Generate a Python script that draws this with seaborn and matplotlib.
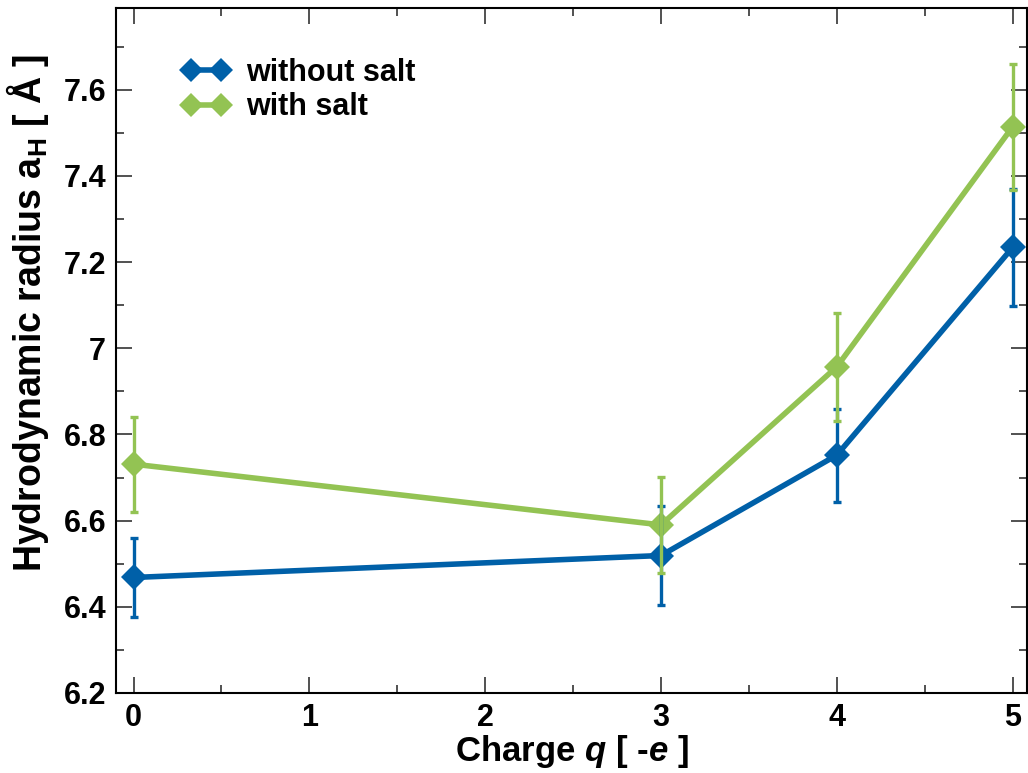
import numpy as np
import pandas as pd
import matplotlib
matplotlib.use("Agg")
import matplotlib.pyplot as plt
import seaborn as sns
from matplotlib.ticker import MultipleLocator

# data
charge = [0, 3, 4, 5]
a_without = [6.468, 6.519, 6.752, 7.234]
err_without = [0.091, 0.114, 0.108, 0.136]
a_with = [6.731, 6.590, 6.957, 7.514]
err_with = [0.110, 0.112, 0.125, 0.146]
series = ["without salt", "with salt"]
colors = ["#0060a8", "#93c353"]
yticks = [6.2, 6.4, 6.6, 6.8, 7.0, 7.2, 7.4, 7.6]
ytick_labels = ["6.2", "6.4", "6.6", "6.8", "7", "7.2", "7.4", "7.6"]

df = pd.DataFrame({
    "q": charge * 2,
    "a": a_without + a_with,
    "err": err_without + err_with,
    "salt": [series[0]] * 4 + [series[1]] * 4,
})

sns.set_theme(style="ticks")
plt.rcParams["font.family"] = ["Liberation Sans", "DejaVu Sans"]
plt.rcParams["font.weight"] = "bold"
plt.rcParams["text.color"] = "black"
plt.rcParams["axes.labelcolor"] = "black"
plt.rcParams["xtick.color"] = "black"
plt.rcParams["ytick.color"] = "black"
plt.rcParams["mathtext.fontset"] = "custom"
plt.rcParams["mathtext.it"] = "Liberation Sans:italic:bold"
plt.rcParams["mathtext.rm"] = "Liberation Sans:bold"

fig = plt.figure(figsize=(10.28, 7.73), dpi=100)
ax = fig.add_axes([0.1128, 0.1035, 0.886, 0.8865])

pal = dict(zip(series, colors))

sns.lineplot(data=df, x="q", y="a", hue="salt", palette=pal, marker="D",
             markersize=13, markeredgewidth=0, linewidth=4, ax=ax,
             legend=True, zorder=3)

for s in series:
    sub = df[df["salt"] == s]
    ax.errorbar(sub["q"], sub["a"], yerr=sub["err"], fmt="none",
                ecolor=pal[s], elinewidth=2.4, capsize=2.6, capthick=2.4, zorder=4)

ax.set_xlim(-0.1, 5.08)
ax.set_ylim(6.2, 7.79)
ax.xaxis.set_major_locator(MultipleLocator(1))
ax.xaxis.set_minor_locator(MultipleLocator(0.5))
ax.yaxis.set_minor_locator(MultipleLocator(0.1))
ax.set_yticks(yticks)
ax.set_yticklabels(ytick_labels)
ax.tick_params(which="both", direction="in", top=True, right=True, width=1.2,
               labelsize=22, color="#333333")
ax.tick_params(which="major", length=11.5, pad=7)
ax.tick_params(which="minor", length=6)
for lab in ax.get_xticklabels() + ax.get_yticklabels():
    lab.set_fontweight("bold")
for sp in ax.spines.values():
    sp.set_linewidth(1.5)
    sp.set_color("black")

ax.set_xlabel(r"Charge $q$ [ -$e$ ]", fontsize=25, fontweight="bold", labelpad=0)
ax.set_ylabel(r"Hydrodynamic radius a$_\mathregular{H}$ [ Å ]", fontsize=27,
              fontweight="bold")
ax.yaxis.set_label_coords(-0.071, 0.555)

handles, labels = ax.get_legend_handles_labels()
for h in handles:
    h.set_markersize(12.5)
ax.legend(handles, labels, loc="upper left", bbox_to_anchor=(0.072, 0.927),
          frameon=False, numpoints=2, handlelength=1.6, borderpad=0,
          borderaxespad=0, handletextpad=0.5, labelspacing=0.15,
          prop={"weight": "bold", "size": 22})

fig.savefig("out.png", dpi=100)
